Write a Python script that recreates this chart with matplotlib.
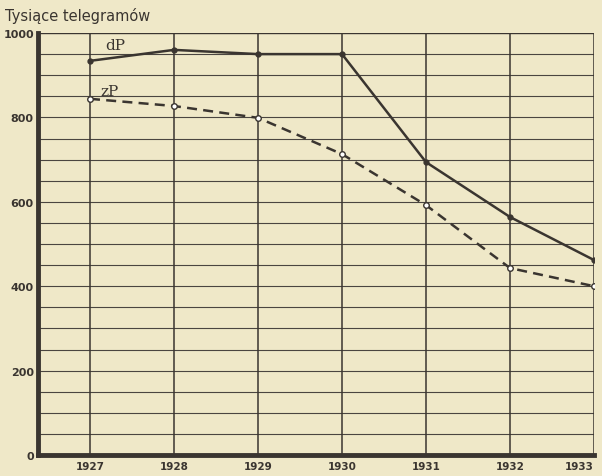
import matplotlib.pyplot as plt
import numpy as np

years = [1927, 1928, 1929, 1930, 1931, 1932, 1933]
dP = [934, 960, 950, 950, 694, 564, 462]
zP = [844, 827, 799, 713, 592, 443, 400]
y_ticks = [0, 200, 400, 600, 800, 1000]

paper = '#efe8c8'
ink = '#3a3530'

fig = plt.figure(figsize=(6.02, 4.77), dpi=100, facecolor=paper)
ax = fig.add_axes([38/602, 21/477, 556/602, 422/477], facecolor=paper)

ax.set_xlim(1927 - 52/84, 1933)
ax.set_ylim(0, 1000)

# siatka
for y in np.arange(50, 1000, 50):
    ax.axhline(y, color='#4a4540', lw=0.8, zorder=1)
ax.axhline(1000, color=ink, lw=1.0, zorder=1)
for x in years:
    ax.axvline(x, color=ink, lw=1.1, zorder=1)

ax.plot(years, dP, color=ink, lw=1.8, marker='o', ms=3.5,
        markerfacecolor=ink, markeredgecolor=ink, zorder=3)
ax.plot(years, zP, color=ink, lw=1.8, linestyle=(0, (4, 2.5)), marker='o', ms=4,
        markerfacecolor='white', markeredgecolor=ink, zorder=3)

ax.text(1927.18, 956, 'dP', fontsize=11, family='DejaVu Serif', color=ink, va='bottom')
ax.text(1927.12, 845, 'zP', fontsize=11, family='DejaVu Serif', color=ink, va='bottom')

for s in ['top', 'right']:
    ax.spines[s].set_visible(False)
ax.spines['left'].set_linewidth(3.5)
ax.spines['bottom'].set_linewidth(3.5)
ax.spines['left'].set_color(ink)
ax.spines['bottom'].set_color(ink)

ax.set_yticks(y_ticks)
ax.set_yticklabels([str(v) for v in y_ticks], fontsize=8, fontweight='bold', color=ink)
ax.set_xticks(years)
ax.set_xticklabels([str(v) for v in years], fontsize=7.5, fontweight='bold', color=ink)
ax.tick_params(length=0, pad=3)
ax.tick_params(axis='x', pad=4)
ax.get_xticklabels()[-1].set_horizontalalignment('right')
ax.get_xticklabels()[-1].set_x(1933.1)

fig.text(5/602, 1 - 16/477, 'Tysiące telegramów', fontsize=10.5, color=ink, va='center', ha='left')

plt.savefig('out.png', dpi=100, facecolor=paper)
